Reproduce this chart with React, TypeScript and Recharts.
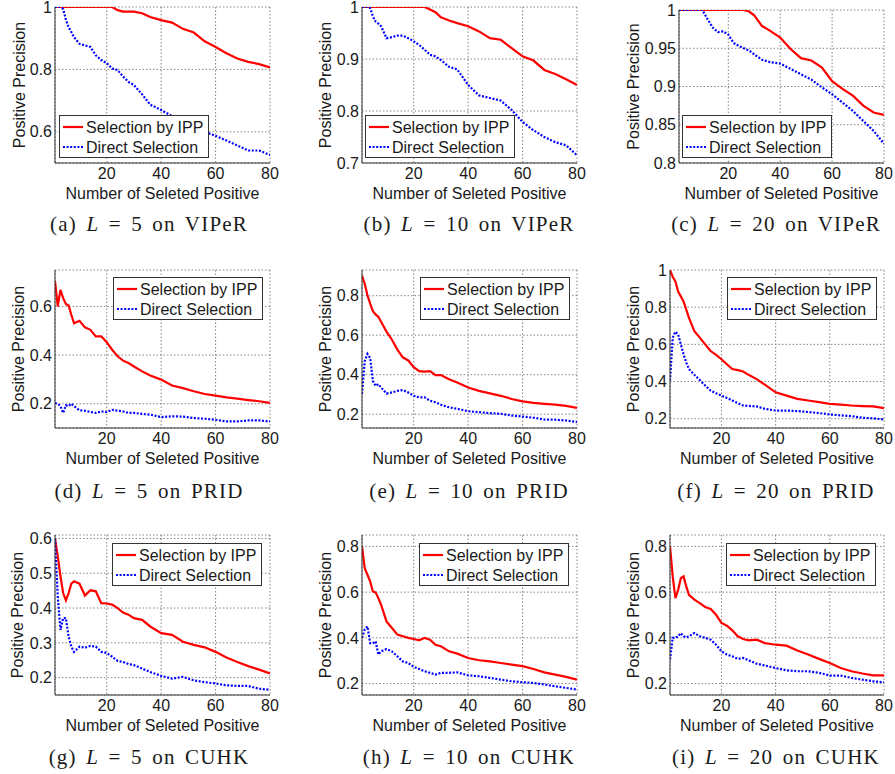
import React from "react";
import { LineChart, Line, XAxis, YAxis, CartesianGrid, Legend, Label } from "recharts";

// number of selected positives at which the curves were read
const selected = [1, 2, 3, 4, 5, 6, 7, 8, 10, 12, 14, 16, 18, 20, 22, 24, 26, 28, 30, 33, 36, 40, 44, 48, 52, 56, 60, 64, 68, 72, 76, 80];
const xTicks = [20, 40, 60, 80];

// VIPeR
const viper5Ipp = [1, 1, 1, 1, 1, 1, 1, 1, 1, 1, 1, 1, 1, 1, 1, 0.99, 0.985, 0.985, 0.985, 0.98, 0.968, 0.958, 0.95, 0.93, 0.918, 0.89, 0.872, 0.852, 0.835, 0.824, 0.817, 0.806];
const viper5Direct = [1, 1, 1, 0.993, 0.96, 0.935, 0.92, 0.903, 0.882, 0.877, 0.872, 0.845, 0.83, 0.82, 0.803, 0.798, 0.777, 0.76, 0.75, 0.72, 0.687, 0.67, 0.65, 0.632, 0.615, 0.6, 0.587, 0.572, 0.556, 0.54, 0.54, 0.526];
const viper10Ipp = [1, 1, 1, 1, 1, 1, 1, 1, 1, 1, 1, 1, 1, 1, 1, 1, 0.995, 0.99, 0.98, 0.974, 0.969, 0.963, 0.953, 0.94, 0.937, 0.921, 0.905, 0.897, 0.879, 0.871, 0.861, 0.85];
const viper10Direct = [1, 1, 1, 0.998, 0.982, 0.972, 0.968, 0.963, 0.94, 0.942, 0.945, 0.945, 0.94, 0.934, 0.927, 0.918, 0.908, 0.905, 0.898, 0.885, 0.88, 0.85, 0.83, 0.825, 0.82, 0.802, 0.779, 0.763, 0.75, 0.74, 0.734, 0.715];
const viper20Ipp = [1, 1, 1, 1, 1, 1, 1, 1, 1, 1, 1, 1, 1, 1, 1, 1, 1, 0.998, 0.993, 0.979, 0.973, 0.964, 0.949, 0.937, 0.934, 0.925, 0.907, 0.897, 0.888, 0.875, 0.866, 0.863];
const viper20Direct = [1, 1, 1, 1, 1, 1, 1, 1, 1, 0.988, 0.977, 0.971, 0.972, 0.968, 0.957, 0.953, 0.95, 0.947, 0.942, 0.935, 0.932, 0.93, 0.923, 0.916, 0.909, 0.899, 0.89, 0.879, 0.868, 0.855, 0.842, 0.825];

// PRID
const prid5Ipp = [0.705, 0.6, 0.668, 0.634, 0.61, 0.604, 0.566, 0.531, 0.541, 0.514, 0.504, 0.477, 0.477, 0.453, 0.422, 0.395, 0.377, 0.367, 0.353, 0.333, 0.316, 0.299, 0.275, 0.264, 0.251, 0.24, 0.233, 0.226, 0.221, 0.215, 0.21, 0.203];
const prid5Direct = [0.203, 0.2, 0.19, 0.162, 0.193, 0.19, 0.2, 0.19, 0.173, 0.171, 0.166, 0.162, 0.168, 0.166, 0.175, 0.171, 0.168, 0.162, 0.162, 0.158, 0.155, 0.145, 0.148, 0.147, 0.141, 0.138, 0.134, 0.127, 0.127, 0.131, 0.131, 0.127];
const prid10Ipp = [0.902, 0.86, 0.802, 0.76, 0.722, 0.705, 0.693, 0.668, 0.618, 0.577, 0.527, 0.488, 0.472, 0.438, 0.418, 0.415, 0.418, 0.398, 0.398, 0.377, 0.36, 0.335, 0.318, 0.305, 0.293, 0.277, 0.265, 0.257, 0.252, 0.248, 0.242, 0.232];
const prid10Direct = [0.302, 0.468, 0.505, 0.485, 0.368, 0.343, 0.352, 0.335, 0.305, 0.31, 0.318, 0.322, 0.31, 0.293, 0.285, 0.285, 0.268, 0.26, 0.248, 0.235, 0.227, 0.215, 0.21, 0.205, 0.202, 0.193, 0.188, 0.182, 0.173, 0.172, 0.168, 0.16];
const prid20Ipp = [1, 0.964, 0.938, 0.884, 0.858, 0.831, 0.787, 0.742, 0.671, 0.636, 0.6, 0.564, 0.543, 0.52, 0.493, 0.467, 0.461, 0.454, 0.436, 0.413, 0.383, 0.342, 0.324, 0.307, 0.298, 0.289, 0.28, 0.276, 0.271, 0.268, 0.266, 0.257];
const prid20Direct = [0.404, 0.636, 0.668, 0.653, 0.6, 0.547, 0.502, 0.467, 0.436, 0.408, 0.378, 0.351, 0.337, 0.324, 0.312, 0.298, 0.284, 0.271, 0.269, 0.266, 0.253, 0.244, 0.244, 0.241, 0.236, 0.23, 0.223, 0.218, 0.214, 0.205, 0.202, 0.196];

// CUHK
const cuhk5Ipp = [0.6, 0.55, 0.492, 0.443, 0.422, 0.443, 0.47, 0.477, 0.47, 0.436, 0.451, 0.448, 0.414, 0.413, 0.41, 0.4, 0.387, 0.381, 0.371, 0.366, 0.347, 0.328, 0.323, 0.303, 0.294, 0.287, 0.274, 0.258, 0.245, 0.233, 0.223, 0.212];
const cuhk5Direct = [0.6, 0.434, 0.337, 0.371, 0.371, 0.318, 0.289, 0.274, 0.289, 0.286, 0.291, 0.289, 0.274, 0.271, 0.26, 0.248, 0.245, 0.239, 0.236, 0.226, 0.216, 0.205, 0.197, 0.202, 0.192, 0.187, 0.183, 0.178, 0.176, 0.176, 0.168, 0.165];
const cuhk10Ipp = [0.8, 0.705, 0.676, 0.647, 0.603, 0.599, 0.574, 0.545, 0.472, 0.443, 0.414, 0.407, 0.4, 0.395, 0.389, 0.4, 0.392, 0.37, 0.363, 0.341, 0.331, 0.312, 0.302, 0.297, 0.29, 0.283, 0.276, 0.264, 0.249, 0.239, 0.229, 0.217];
const cuhk10Direct = [0.4, 0.436, 0.45, 0.377, 0.377, 0.385, 0.327, 0.341, 0.351, 0.341, 0.319, 0.297, 0.29, 0.273, 0.264, 0.254, 0.247, 0.239, 0.247, 0.247, 0.249, 0.236, 0.232, 0.225, 0.217, 0.21, 0.206, 0.203, 0.196, 0.188, 0.181, 0.174];
const cuhk20Ipp = [0.8, 0.669, 0.574, 0.61, 0.661, 0.669, 0.625, 0.588, 0.567, 0.552, 0.535, 0.526, 0.501, 0.465, 0.453, 0.433, 0.407, 0.395, 0.389, 0.392, 0.377, 0.37, 0.366, 0.345, 0.327, 0.308, 0.29, 0.268, 0.254, 0.244, 0.236, 0.236];
const cuhk20Direct = [0.305, 0.4, 0.4, 0.407, 0.421, 0.407, 0.402, 0.407, 0.421, 0.407, 0.4, 0.392, 0.37, 0.341, 0.327, 0.319, 0.308, 0.312, 0.302, 0.287, 0.279, 0.268, 0.258, 0.254, 0.254, 0.247, 0.235, 0.235, 0.225, 0.217, 0.21, 0.206];

const FONT = "'Liberation Sans', Arial, sans-serif";
const INK = "#1a1a1a";
const AXIS = "#333";
const LEFT_PAD = 60;
const TOP_PAD = 10;

type Rect = { left: number; top: number; right: number; bottom: number };
type PanelCfg = {
  tag: string;
  L: number;
  dataset: string;
  ipp: number[];
  direct: number[];
  yDomain: [number, number];
  yTicks: number[];
  plot: Rect;
  legendAt: "bottomLeft" | "topRight";
  legendInset: number;
  yLabelGap: number;
  caption: [number, number];
};

const panels: PanelCfg[] = [
  { tag: "a", L: 5, dataset: "VIPeR", ipp: viper5Ipp, direct: viper5Direct, yDomain: [0.5, 1], yTicks: [0.6, 0.8, 1], plot: { left: 55, top: 7, right: 270, bottom: 163 }, legendAt: "bottomLeft", legendInset: 4, yLabelGap: 36, caption: [149, 224] },
  { tag: "b", L: 10, dataset: "VIPeR", ipp: viper10Ipp, direct: viper10Direct, yDomain: [0.7, 1], yTicks: [0.7, 0.8, 0.9, 1], plot: { left: 362, top: 7, right: 577, bottom: 163 }, legendAt: "bottomLeft", legendInset: 3, yLabelGap: 37, caption: [469, 224] },
  { tag: "c", L: 20, dataset: "VIPeR", ipp: viper20Ipp, direct: viper20Direct, yDomain: [0.8, 1], yTicks: [0.8, 0.85, 0.9, 0.95, 1], plot: { left: 679, top: 10, right: 884, bottom: 163 }, legendAt: "bottomLeft", legendInset: 3, yLabelGap: 46, caption: [776, 224] },
  { tag: "d", L: 5, dataset: "PRID", ipp: prid5Ipp, direct: prid5Direct, yDomain: [0.1, 0.75], yTicks: [0.2, 0.4, 0.6], plot: { left: 55, top: 270, right: 270, bottom: 428 }, legendAt: "topRight", legendInset: 7, yLabelGap: 37, caption: [149, 491] },
  { tag: "e", L: 10, dataset: "PRID", ipp: prid10Ipp, direct: prid10Direct, yDomain: [0.13, 0.93], yTicks: [0.2, 0.4, 0.6, 0.8], plot: { left: 362, top: 270, right: 577, bottom: 428 }, legendAt: "topRight", legendInset: 7, yLabelGap: 37, caption: [469, 491] },
  { tag: "f", L: 20, dataset: "PRID", ipp: prid20Ipp, direct: prid20Direct, yDomain: [0.15, 1], yTicks: [0.2, 0.4, 0.6, 0.8, 1], plot: { left: 670, top: 270, right: 884, bottom: 428 }, legendAt: "topRight", legendInset: 7, yLabelGap: 37, caption: [776, 491] },
  { tag: "g", L: 5, dataset: "CUHK", ipp: cuhk5Ipp, direct: cuhk5Direct, yDomain: [0.15, 0.61], yTicks: [0.2, 0.3, 0.4, 0.5, 0.6], plot: { left: 55, top: 535, right: 270, bottom: 695 }, legendAt: "topRight", legendInset: 8, yLabelGap: 38, caption: [149, 757] },
  { tag: "h", L: 10, dataset: "CUHK", ipp: cuhk10Ipp, direct: cuhk10Direct, yDomain: [0.15, 0.85], yTicks: [0.2, 0.4, 0.6, 0.8], plot: { left: 362, top: 535, right: 577, bottom: 695 }, legendAt: "topRight", legendInset: 8, yLabelGap: 37, caption: [469, 757] },
  { tag: "i", L: 20, dataset: "CUHK", ipp: cuhk20Ipp, direct: cuhk20Direct, yDomain: [0.15, 0.85], yTicks: [0.2, 0.4, 0.6, 0.8], plot: { left: 670, top: 535, right: 884, bottom: 695 }, legendAt: "topRight", legendInset: 8, yLabelGap: 37, caption: [776, 757] },
];

const LEGEND_W = 150;
const LEGEND_H = 43;

function LegendBox() {
  return (
    <svg width={LEGEND_W} height={LEGEND_H} style={{ display: "block" }}>
      <rect x={0.5} y={0.5} width={LEGEND_W - 1} height={LEGEND_H - 1} fill="#fff" stroke={AXIS} strokeWidth={1} />
      <line x1={4} x2={24} y1={12} y2={12} stroke="#ff0000" strokeWidth={2.2} />
      <text x={27} y={12} dy="0.36em" fontSize={16} fill={INK} fontFamily={FONT}>Selection by IPP</text>
      <line x1={4} x2={24} y1={32} y2={32} stroke="#0000ff" strokeWidth={2.2} strokeDasharray="2 1.6" />
      <text x={27} y={32} dy="0.36em" fontSize={16} fill={INK} fontFamily={FONT}>Direct Selection</text>
    </svg>
  );
}

function Panel({ cfg }: { cfg: PanelCfg }) {
  const { plot } = cfg;
  const plotW = plot.right - plot.left;
  const plotH = plot.bottom - plot.top;
  const width = plotW + LEFT_PAD + 10;
  const height = plotH + TOP_PAD + 40;
  const data = selected.map((x, i) => ({ x, ipp: cfg.ipp[i], direct: cfg.direct[i] }));

  const legendLeft = cfg.legendAt === "bottomLeft" ? LEFT_PAD + cfg.legendInset : LEFT_PAD + plotW - cfg.legendInset - LEGEND_W;
  const legendTop = cfg.legendAt === "bottomLeft" ? TOP_PAD + plotH - 5 - LEGEND_H : TOP_PAD + cfg.legendInset;

  return (
    <div style={{ position: "absolute", left: plot.left - LEFT_PAD, top: plot.top - TOP_PAD }}>
      <LineChart width={width} height={height} data={data} margin={{ top: TOP_PAD, right: 10, left: 0, bottom: 0 }}>
        <CartesianGrid stroke="#666" strokeDasharray="1.5 2" strokeWidth={0.8} />
        <XAxis
          dataKey="x"
          type="number"
          domain={[1, 80]}
          ticks={xTicks}
          height={40}
          tickLine={false}
          tickSize={0}
          tickMargin={5}
          axisLine={{ stroke: AXIS }}
          tick={{ fontSize: 16, fill: INK }}
          allowDataOverflow
        >
          <Label
            content={(props: any) => {
              const vb = props.viewBox || {};
              return (
                <text x={vb.x + vb.width / 2} y={vb.y + 30} textAnchor="middle" dominantBaseline="central" fontSize={16} fill={INK}>
                  Number of Seleted Positive
                </text>
              );
            }}
          />
        </XAxis>
        <XAxis xAxisId="top" orientation="top" type="number" domain={[1, 80]} height={0} tick={false} tickLine={false} axisLine={{ stroke: AXIS }} />
        <YAxis
          type="number"
          domain={cfg.yDomain}
          ticks={cfg.yTicks}
          width={LEFT_PAD}
          tickLine={false}
          tickSize={0}
          tickMargin={3}
          axisLine={{ stroke: AXIS }}
          tick={{ fontSize: 16, fill: INK }}
          allowDataOverflow
        >
          <Label
            content={(props: any) => {
              const vb = props.viewBox || {};
              const cx = vb.x + vb.width - cfg.yLabelGap;
              const cy = vb.y + vb.height / 2;
              return (
                <text x={cx} y={cy} transform={`rotate(-90 ${cx} ${cy})`} textAnchor="middle" dominantBaseline="central" fontSize={16} fill={INK}>
                  Positive Precision
                </text>
              );
            }}
          />
        </YAxis>
        <YAxis yAxisId="right" orientation="right" type="number" domain={cfg.yDomain} width={0} tick={false} tickLine={false} axisLine={{ stroke: AXIS }} />
        <Line type="linear" dataKey="ipp" stroke="#ff0000" strokeWidth={2.2} dot={false} isAnimationActive={false} name="Selection by IPP" />
        <Line type="linear" dataKey="direct" stroke="#0000ff" strokeWidth={2.2} strokeDasharray="2 1.6" dot={false} isAnimationActive={false} name="Direct Selection" />
        <Legend
          layout="horizontal"
          verticalAlign="middle"
          align="center"
          wrapperStyle={{ left: legendLeft, top: legendTop, width: LEGEND_W, height: LEGEND_H }}
          content={() => <LegendBox />}
        />
      </LineChart>
    </div>
  );
}

function Caption({ cfg }: { cfg: PanelCfg }) {
  const [cx, cy] = cfg.caption;
  return (
    <div
      style={{
        position: "absolute",
        left: cx - 160,
        top: cy - 15,
        width: 320,
        height: 30,
        lineHeight: "30px",
        textAlign: "center",
        fontFamily: "'Liberation Serif', 'Times New Roman', serif",
        fontSize: 21,
        letterSpacing: 1.2,
        wordSpacing: 3,
        color: INK,
        whiteSpace: "pre",
      }}
    >
      ({cfg.tag}) <i>L</i> = {cfg.L} on {cfg.dataset}
    </div>
  );
}

export default function App() {
  return (
    <div style={{ position: "absolute", left: 0, top: 0, width: 895, height: 774, background: "#fff", fontFamily: FONT, overflow: "hidden" }}>
      {panels.map((p) => (
        <Panel key={p.tag} cfg={p} />
      ))}
      {panels.map((p) => (
        <Caption key={"c" + p.tag} cfg={p} />
      ))}
    </div>
  );
}
